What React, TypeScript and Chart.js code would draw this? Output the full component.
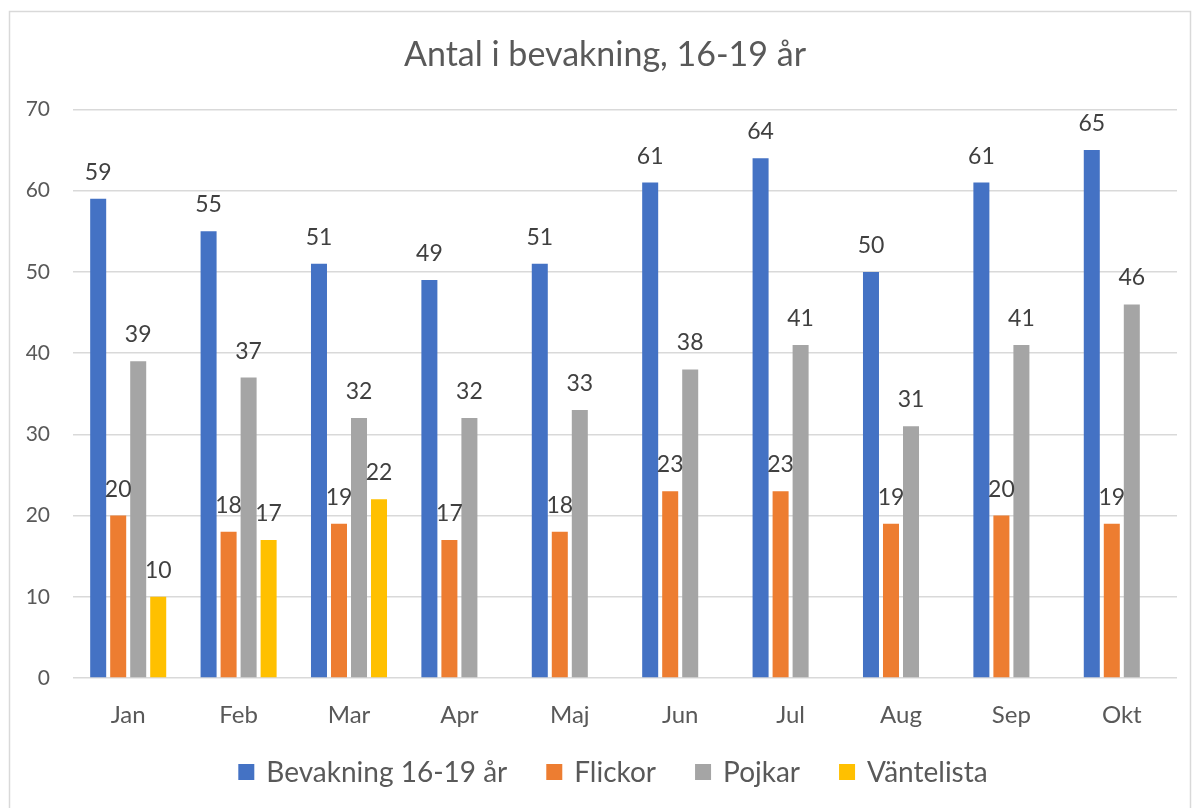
import React, { useEffect, useRef } from "react";
import { Chart, registerables } from "chart.js";

Chart.register(...registerables);

const TITLE = "Antal i bevakning, 16-19 år";
const categories = ["Jan", "Feb", "Mar", "Apr", "Maj", "Jun", "Jul", "Aug", "Sep", "Okt"];
const bevakning = [59, 55, 51, 49, 51, 61, 64, 50, 61, 65];
const flickor = [20, 18, 19, 17, 18, 23, 23, 19, 20, 19];
const pojkar = [39, 37, 32, 32, 33, 38, 41, 31, 41, 46];
const vantelista: (number | null)[] = [10, 17, 22, null, null, null, null, null, null, null];
const seriesNames = ["Bevakning 16-19 år", "Flickor", "Pojkar", "Väntelista"];
const seriesColors = ["#4472C4", "#ED7D31", "#A5A5A5", "#FFC000"];
const yTicks = [0, 10, 20, 30, 40, 50, 60, 70];

const FONT = "Lato, 'Open Sans', sans-serif";

const framePlugin = {
  id: "frame",
  beforeDraw(chart: any) {
    const ctx = chart.ctx;
    ctx.save();
    ctx.fillStyle = "#ffffff";
    ctx.fillRect(0, 0, chart.width, chart.height);
    ctx.strokeStyle = "#D9D9D9";
    ctx.lineWidth = 1.5;
    ctx.strokeRect(9.5, 11.5, 1181, 820);
    ctx.restore();
  },
};

const shiftPlugin = {
  id: "shiftTitle",
  afterLayout(chart: any) {
    const t = chart.titleBlock;
    if (t) {
      t.left += 12;
      t.right += 12;
    }
  },
};

const legendPlugin = {
  id: "customLegend",
  afterDraw(chart: any) {
    const ctx = chart.ctx;
    ctx.save();
    ctx.font = `28px ${FONT}`;
    ctx.textBaseline = "middle";
    ctx.textAlign = "left";
    const box = 16;
    const gapText = 12;
    const gapItem = 39;
    const items = chart.data.datasets.map((ds: any) => ({
      text: ds.label,
      color: ds.backgroundColor,
      w: ctx.measureText(ds.label).width,
    }));
    const total =
      items.reduce((s: number, it: any) => s + box + gapText + it.w, 0) + gapItem * (items.length - 1);
    let x = 613 - total / 2;
    const y = 772;
    items.forEach((it: any) => {
      ctx.fillStyle = it.color;
      ctx.fillRect(x, y - box / 2, box, box);
      x += box + gapText;
      ctx.fillStyle = "#595959";
      ctx.fillText(it.text, x, y + 1);
      x += it.w + gapItem;
    });
    ctx.restore();
  },
};

const labelPlugin = {
  id: "barLabels",
  afterDatasetsDraw(chart: any) {
    const ctx = chart.ctx;
    ctx.save();
    ctx.font = `23px ${FONT}`;
    ctx.fillStyle = "#404040";
    ctx.textAlign = "center";
    ctx.textBaseline = "alphabetic";
    chart.data.datasets.forEach((ds: any, i: number) => {
      const meta = chart.getDatasetMeta(i);
      meta.data.forEach((bar: any, j: number) => {
        const v = ds.data[j];
        if (v === null || v === undefined) return;
        ctx.fillText(String(v), bar.x, bar.y - 19);
      });
    });
    ctx.restore();
  },
};

export default function App() {
  const ref = useRef<HTMLCanvasElement>(null);
  useEffect(() => {
    if (!ref.current) return;
    const data = [bevakning, flickor, pojkar, vantelista];
    const chart = new Chart(ref.current, {
      type: "bar",
      data: {
        labels: categories,
        datasets: data.map((d, i) => ({
          label: seriesNames[i],
          data: d,
          backgroundColor: seriesColors[i],
          borderWidth: 0,
          categoryPercentage: 0.725,
          barPercentage: 0.8,
        })),
      },
      options: {
        responsive: false,
        animation: false,
        layout: { padding: { left: 9, right: 17, top: 11, bottom: 70 } },
        plugins: {
          tooltip: { enabled: false },
          title: {
            display: true,
            text: TITLE,
            color: "#595959",
            font: { family: FONT, size: 34, weight: "normal" },
            padding: { top: 23.6, bottom: 34.1 },
          },
          legend: { display: false },
        },
        scales: {
          x: {
            grid: { display: false, drawTicks: false },
            border: { display: false },
            ticks: { color: "#595959", font: { family: FONT, size: 24 }, padding: 23, maxRotation: 0 },
            afterFit(scale: any) {
              scale.height = 60;
            },
          },
          y: {
            min: 0,
            max: 70,
            afterBuildTicks(scale: any) {
              scale.ticks = yTicks.map((v) => ({ value: v }));
            },
            grid: { color: "#D9D9D9", lineWidth: 1.5, drawTicks: false },
            border: { display: false },
            ticks: { color: "#595959", font: { family: FONT, size: 21 }, padding: 23 },
            afterFit(scale: any) {
              scale.width = 64;
            },
          },
        },
      },
      plugins: [framePlugin, shiftPlugin, labelPlugin, legendPlugin],
    });
    return () => chart.destroy();
  }, []);
  return (
    <div style={{ position: "fixed", left: 0, top: 0, width: 1194, height: 808 }}>
      <canvas ref={ref} width={1194} height={808} />
    </div>
  );
}
